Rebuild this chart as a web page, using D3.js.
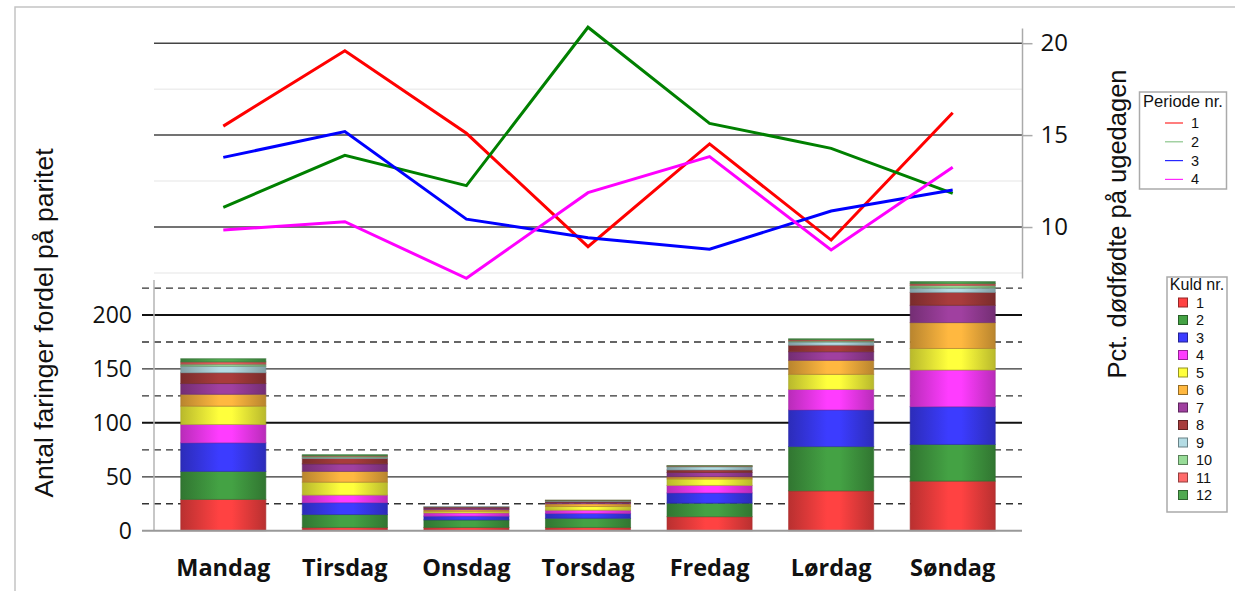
<!DOCTYPE html>
<html>
<head>
<meta charset="utf-8">
<script src="https://cdn.jsdelivr.net/npm/d3@7"></script>
<style>
  body { margin: 0; background: #fff; }
  svg { display: block; }
</style>
</head>
<body>
<div id="chart-container"></div>
<script>
/**************************************************
 * Data
 **************************************************/

const days = ["Mandag", "Tirsdag", "Onsdag", "Torsdag", "Fredag", "Lørdag", "Søndag"];

// litters per weekday, one array per parity (kuld nr.)
const kuld1  = [29, 3, 3, 3, 13, 37, 46];
const kuld2  = [26, 12, 7, 8.5, 12.5, 41, 34];
const kuld3  = [26.5, 11, 3.5, 4.5, 9.5, 34, 35];
const kuld4  = [17, 7, 3, 3, 7, 19, 34];
const kuld5  = [17, 12, 1.5, 3.5, 6, 14, 20];
const kuld6  = [11, 10, 1.5, 2.5, 2, 13, 24];
const kuld7  = [10, 7, 1.5, 1.2, 4, 8, 16];
const kuld8  = [10, 5, 1, 1, 2.3, 6, 12];
const kuld9  = [6, 1, 0.3, 0.5, 3, 3, 4];
const kuld10 = [2, 1, 0, 0.3, 0.5, 1, 2.5];
const kuld11 = [2, 0.5, 0, 0.2, 0.3, 1, 1.5];
const kuld12 = [3, 1, 0, 0.1, 0.2, 1, 2];
const kuldLabels = ["1", "2", "3", "4", "5", "6", "7", "8", "9", "10", "11", "12"];

// pct. stillborn per weekday, one array per period
const periode1 = [15.49, 19.59, 15.1, 8.93, 14.52, 9.29, 16.22];
const periode2 = [11.07, 13.9, 12.25, 20.87, 15.64, 14.28, 11.83];
const periode3 = [13.79, 15.19, 10.43, 9.42, 8.79, 10.87, 12.01];
const periode4 = [9.84, 10.29, 7.21, 11.87, 13.83, 8.75, 13.25];
const periodeLabels = ["1", "2", "3", "4"];

const countTicks = [0, 50, 100, 150, 200];
const countDashed = [25, 75, 125, 175, 225];
const pctTicks = [10, 15, 20];
const pctMinor = [7.5, 12.5, 17.5];

/**************************************************
 * Rendering
 **************************************************/

const kuldSeries = [kuld1, kuld2, kuld3, kuld4, kuld5, kuld6, kuld7, kuld8, kuld9, kuld10, kuld11, kuld12];
const periodeSeries = [periode1, periode2, periode3, periode4];

const kuldColors = ["#ff4242", "#44a244", "#3c3cff", "#ff3cff", "#ffff3c", "#ffb840",
                    "#a040a0", "#a83c3c", "#b4dce4", "#98dc98", "#ff6a6a", "#50aa50"];
const periodeColors = ["#ff0000", "#008000", "#0000ff", "#ff00ff"];

const width = 1235, height = 591;
const svg = d3.select("#chart-container")
  .append("svg")
  .attr("width", width)
  .attr("height", height)
  .style("font-family", "'Open Sans', sans-serif");

// outer frame (top + left)
svg.append("path")
  .attr("d", `M15,${height} L15,7 L${width},7`)
  .attr("fill", "none")
  .attr("stroke", "#c4c4c4")
  .attr("stroke-width", 1.5);

const x = d3.scaleBand()
  .domain(days)
  .range([154, 1022])
  .paddingInner(0.3)
  .paddingOuter(0.22);

const xc = d => x(d) + x.bandwidth() / 2;

// ---------- upper: line chart ----------
const yPct = d3.scaleLinear().domain([7.2, 20.8]).range([278.5, 28.5]);

pctMinor.forEach(v => {
  svg.append("line")
    .attr("x1", 154).attr("x2", 1022)
    .attr("y1", yPct(v)).attr("y2", yPct(v))
    .attr("stroke", "#eeeeee").attr("stroke-width", 1.5);
});
pctTicks.forEach(v => {
  svg.append("line")
    .attr("x1", 154).attr("x2", 1022)
    .attr("y1", yPct(v)).attr("y2", yPct(v))
    .attr("stroke", "#444").attr("stroke-width", 1.5);
});

const rightAxis = svg.append("g")
  .attr("transform", "translate(1022.5,0)")
  .call(d3.axisRight(yPct).tickValues(pctTicks).tickSize(10).tickPadding(8));
rightAxis.select(".domain")
  .attr("d", `M0,${yPct.range()[1]}V${yPct.range()[0]}`)
  .attr("stroke", "#aaa").attr("stroke-width", 1.5);
rightAxis.selectAll(".tick line").attr("stroke", "#aaa").attr("stroke-width", 1.5);
rightAxis.selectAll(".tick text")
  .attr("fill", "#111")
  .style("font-family", "'Open Sans', sans-serif")
  .style("font-size", "24px");

svg.append("text")
  .attr("transform", "translate(1126,224) rotate(-90)")
  .attr("text-anchor", "middle")
  .style("font-family", "'Liberation Sans', Arial, sans-serif")
  .style("font-size", "25.5px")
  .attr("fill", "#111")
  .text("Pct. dødfødte på ugedagen");

const line = d3.line()
  .x((d, i) => xc(days[i]))
  .y(d => yPct(d));

periodeSeries.forEach((s, k) => {
  svg.append("path")
    .datum(s)
    .attr("d", line)
    .attr("fill", "none")
    .attr("stroke", periodeColors[k])
    .attr("stroke-width", 3)
    .attr("stroke-linejoin", "miter");
});

// ---------- lower: stacked bars ----------
const yCount = d3.scaleLinear().domain([0, 232.5]).range([530.7, 280]);

countDashed.forEach(v => {
  svg.append("line")
    .attr("x1", 142).attr("x2", 1022)
    .attr("y1", yCount(v)).attr("y2", yCount(v))
    .attr("stroke", "#333").attr("stroke-width", 1.3)
    .attr("stroke-dasharray", "7,5");
});
countTicks.filter(v => v > 0).forEach(v => {
  svg.append("line")
    .attr("x1", 142).attr("x2", 1022)
    .attr("y1", yCount(v)).attr("y2", yCount(v))
    .attr("stroke", v % 100 === 0 ? "#111" : "#333")
    .attr("stroke-width", v % 100 === 0 ? 2 : 1.3);
});

const leftAxis = svg.append("g")
  .attr("transform", "translate(154,0)")
  .call(d3.axisLeft(yCount).tickValues(countTicks).tickSize(0).tickPadding(22));
leftAxis.select(".domain")
  .attr("d", `M0,${yCount.range()[1]}V${yCount.range()[0]}`)
  .attr("stroke", "#b4b4b4").attr("stroke-width", 1.5);
leftAxis.selectAll(".tick text")
  .attr("fill", "#111")
  .style("font-family", "'Open Sans', sans-serif")
  .style("font-size", "23px");

svg.append("text")
  .attr("transform", "translate(53,323) rotate(-90)")
  .attr("text-anchor", "middle")
  .style("font-family", "'Liberation Sans', Arial, sans-serif")
  .style("font-size", "26.5px")
  .attr("fill", "#111")
  .text("Antal faringer fordel på paritet");

// gradients for the shaded bars
const defs = svg.append("defs");
kuldColors.forEach((c, k) => {
  const g = defs.append("linearGradient")
    .attr("id", "kuld-grad-" + k)
    .attr("x1", "0%").attr("x2", "100%")
    .attr("y1", "0%").attr("y2", "0%");
  g.append("stop").attr("offset", "0%").attr("stop-color", d3.color(c).darker(0.9));
  g.append("stop").attr("offset", "45%").attr("stop-color", c);
  g.append("stop").attr("offset", "60%").attr("stop-color", c);
  g.append("stop").attr("offset", "100%").attr("stop-color", d3.color(c).darker(0.9));
});

const table = days.map((d, i) => {
  const row = { day: d };
  kuldLabels.forEach((k, j) => { row[k] = kuldSeries[j][i]; });
  return row;
});
const stacked = d3.stack().keys(kuldLabels)(table);

stacked.forEach((layer, k) => {
  svg.append("g")
    .selectAll("rect")
    .data(layer)
    .join("rect")
    .attr("x", d => x(d.data.day))
    .attr("y", d => yCount(d[1]))
    .attr("width", x.bandwidth())
    .attr("height", d => Math.max(0, yCount(d[0]) - yCount(d[1])))
    .attr("fill", `url(#kuld-grad-${k})`)
    .attr("stroke", d3.color(kuldColors[k]).darker(1.2))
    .attr("stroke-opacity", 0.6)
    .attr("stroke-width", 1);
});

// baseline
svg.append("line")
  .attr("x1", 142).attr("x2", 1022)
  .attr("y1", yCount(0)).attr("y2", yCount(0))
  .attr("stroke", "#999").attr("stroke-width", 2);

// weekday labels
svg.append("g")
  .selectAll("text")
  .data(days)
  .join("text")
  .attr("x", d => xc(d))
  .attr("y", 576)
  .attr("text-anchor", "middle")
  .style("font-family", "'Open Sans', sans-serif")
  .style("font-size", "23.5px")
  .style("font-weight", "bold")
  .attr("fill", "#111")
  .text(d => d);

// ---------- legends ----------
const legFont = "'Liberation Sans', Arial, sans-serif";

// Periode nr.
svg.append("rect")
  .attr("x", 1139.5).attr("y", 92)
  .attr("width", 87).attr("height", 97)
  .attr("fill", "#fff").attr("stroke", "#aaa").attr("stroke-width", 1.5);
svg.append("text")
  .attr("x", 1183).attr("y", 107)
  .attr("text-anchor", "middle")
  .style("font-family", legFont).style("font-size", "16.5px")
  .attr("fill", "#111")
  .text("Periode nr.");
periodeLabels.forEach((lab, k) => {
  const yy = 123 + k * 18.8;
  svg.append("line")
    .attr("x1", 1165).attr("x2", 1183)
    .attr("y1", yy).attr("y2", yy)
    .attr("stroke", periodeColors[k])
    .attr("stroke-opacity", k === 1 ? 0.45 : 0.85)
    .attr("stroke-width", 1.2);
  svg.append("text")
    .attr("x", 1191).attr("y", yy + 5)
    .style("font-family", legFont).style("font-size", "14.5px")
    .attr("fill", "#111")
    .text(lab);
});

// Kuld nr.
svg.append("rect")
  .attr("x", 1167).attr("y", 277)
  .attr("width", 60).attr("height", 235)
  .attr("fill", "#fff").attr("stroke", "#aaa").attr("stroke-width", 1.5);
svg.append("text")
  .attr("x", 1197).attr("y", 290)
  .attr("text-anchor", "middle")
  .style("font-family", legFont).style("font-size", "16px")
  .attr("fill", "#111")
  .text("Kuld nr.");
kuldLabels.forEach((lab, k) => {
  const yy = 302.5 + k * 17.5;
  svg.append("rect")
    .attr("x", 1178.5).attr("y", yy - 4.5)
    .attr("width", 9).attr("height", 9)
    .attr("fill", kuldColors[k])
    .attr("stroke", d3.color(kuldColors[k]).darker(1.5))
    .attr("stroke-width", 1);
  svg.append("text")
    .attr("x", 1196).attr("y", yy + 5)
    .style("font-family", legFont).style("font-size", "14.5px")
    .attr("fill", "#111")
    .text(lab);
});
</script>
</body>
</html>
